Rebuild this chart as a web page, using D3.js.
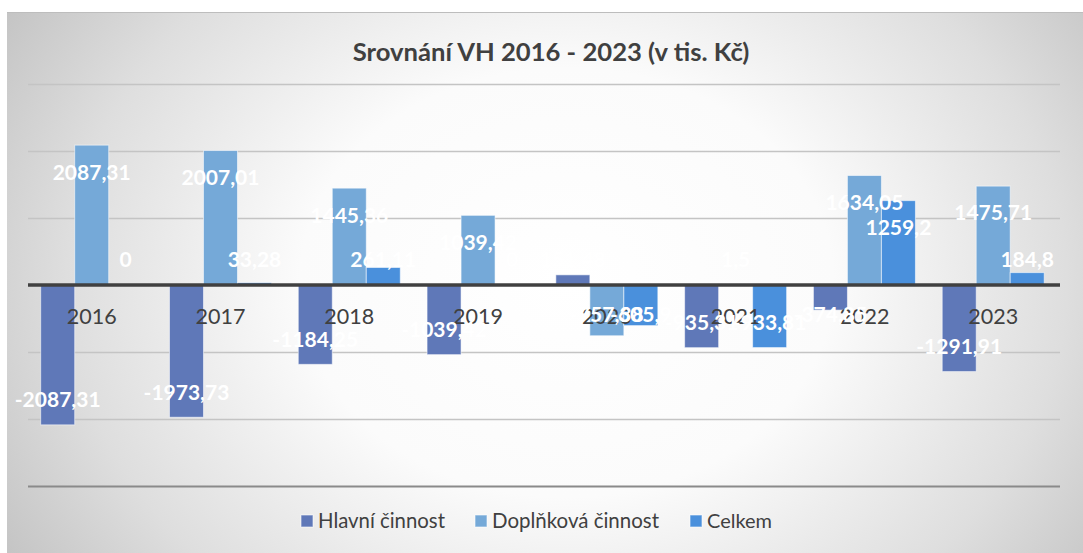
<!DOCTYPE html>
<html><head><meta charset="utf-8">
<script src="https://cdn.jsdelivr.net/npm/d3@7"></script>
<style>html,body{margin:0;padding:0;background:#fff;}svg{display:block;}</style>
</head><body>
<svg id="chart" width="1083" height="553"></svg>
<script>
const categories = ["2016","2017","2018","2019","2020","2021","2022","2023"];
const seriesNames = ["Hlavní činnost","Doplňková činnost","Celkem"];
const hlavni   = [-2087.31,-1973.73,-1184.25,-1039.42, 151.48,-935.31,-374.85,-1291.91];
const doplnkova= [2087.31, 2007.01, 1445.36, 1039.42,-757.38,   1.50,1634.05, 1475.71];
const celkem   = [0, 33.28, 261.11, 0, -605.90, -933.81, 1259.2, 184.8];
const yTicks = [-3000,-2000,-1000,0,1000,2000,3000];
const colors = ["#5f78b8","#75a9d8","#4a90dc"];
const title = "Srovnání VH 2016 - 2023 (v tis. Kč)";

const svg = d3.select("#chart");
const W=1083,H=553;
const defs = svg.append("defs");
const rg = defs.append("radialGradient").attr("id","bg").attr("cx","52%").attr("cy","50%").attr("r","62%")
  .attr("gradientTransform","translate(0.52,0.5) scale(1,1.6) translate(-0.52,-0.5)");
rg.append("stop").attr("offset","0%").attr("stop-color","#ffffff");
rg.append("stop").attr("offset","40%").attr("stop-color","#fbfbfb");
rg.append("stop").attr("offset","75%").attr("stop-color","#dedede");
rg.append("stop").attr("offset","100%").attr("stop-color","#c2c2c2");
svg.append("rect").attr("x",7).attr("y",12).attr("width",W-7).attr("height",H-12).attr("fill","url(#bg)");
svg.append("line").attr("x1",7).attr("x2",W).attr("y1",12.5).attr("y2",12.5).attr("stroke","#bdbdbd").attr("stroke-width",1);

const fontFam = "Lato, 'Open Sans', sans-serif";
const x0 = d3.scaleBand().domain(categories).range([27.3,1057.6]).paddingInner(0).paddingOuter(0);
const inner = 0.104;
const x1 = d3.scaleBand().domain(seriesNames).range([x0.bandwidth()*inner, x0.bandwidth()*(1-inner)]).padding(0);
const y = d3.scaleLinear().domain([-3000,3000]).range([486,84]);

// gridlines
svg.append("g").selectAll("line").data(yTicks.filter(d=>d!==0)).join("line")
  .attr("x1",28).attr("x2",1060).attr("y1",d=>Math.round(y(d))+0.5).attr("y2",d=>Math.round(y(d))+0.5)
  .attr("stroke",d=>d===-3000?"#8a8a8a":"#c4c4c4").attr("stroke-width",d=>d===-3000?2:1.5);

const data = [hlavni,doplnkova,celkem];
const g = svg.append("g");
categories.forEach((c,i)=>{
  seriesNames.forEach((s,j)=>{
    const v = data[j][i];
    g.append("rect")
      .attr("x",x0(c)+x1(s)).attr("width",x1.bandwidth())
      .attr("y",y(Math.max(0,v))).attr("height",Math.abs(y(v)-y(0)))
      .attr("fill",colors[j]).attr("stroke","rgba(255,255,255,0.55)").attr("stroke-width",1);
  });
});
// zero axis
svg.append("line").attr("x1",28).attr("x2",1060).attr("y1",y(0)).attr("y2",y(0)).attr("stroke","#404040").attr("stroke-width",3.5);

// category labels
svg.append("g").selectAll("text").data(categories).join("text")
  .attr("x",d=>x0(d)+x0.bandwidth()/2).attr("y",316).attr("dy","0.35em")
  .attr("text-anchor","middle").attr("font-family",fontFam).attr("font-size",21.5).attr("fill","#404040").text(d=>d);

// data labels
const fmt = v => String(v).replace(".",",");
categories.forEach((c,i)=>{
  seriesNames.forEach((s,j)=>{
    const v = data[j][i];
    const end = y(v);
    let cy;
    if (v>=0) cy = Math.min(end+27, y(0)-25);
    else cy = Math.max(end-25, y(0)+30);
    svg.append("text").attr("x",x0(c)+x1(s)+x1.bandwidth()/2).attr("y",cy).attr("dy","0.35em")
      .attr("text-anchor","middle").attr("font-family",fontFam).attr("font-weight","bold")
      .attr("font-size",21).attr("fill","#ffffff").text(fmt(v));
  });
});

// title
const t = svg.append("text").attr("x",551).attr("y",52).attr("dy","0.35em").attr("text-anchor","middle")
  .attr("font-family",fontFam).attr("font-weight","bold").attr("font-size",22).attr("fill","#404040").text(title);
const tw = t.node().getComputedTextLength();
t.attr("font-size",22*397/tw);

// legend
const legX = [301,475,690];
const legTextW = [127,167,65];
seriesNames.forEach((s,j)=>{
  svg.append("rect").attr("x",legX[j]).attr("y",515).attr("width",12).attr("height",12)
    .attr("fill",colors[j]).attr("stroke","rgba(255,255,255,0.6)");
  const lt = svg.append("text").attr("x",legX[j]+17).attr("y",521).attr("dy","0.35em")
    .attr("font-family",fontFam).attr("font-size",20).attr("fill","#404040").text(s);
  const w = lt.node().getComputedTextLength();
  lt.attr("font-size",20*legTextW[j]/w);
});
</script>
</body></html>
